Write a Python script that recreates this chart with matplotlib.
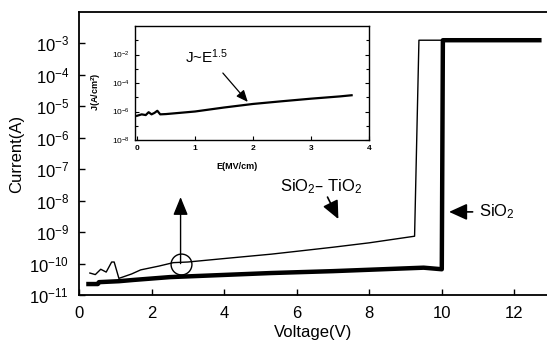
import numpy as np
import matplotlib.pyplot as plt

plt.rcParams['font.family'] = ['Liberation Sans', 'DejaVu Sans']
plt.rcParams['mathtext.default'] = 'regular'

# SiO2-TiO2 (thin line): voltage and log10(current)
v_mix = [0.3, 0.45, 0.6, 0.75, 0.9, 0.97, 1.1, 1.45, 1.7, 2.2, 2.6, 3.0, 4.0,
         5.3, 6.0, 7.0, 8.0, 9.25, 9.37, 10.03]
logi_mix = [-10.3, -10.35, -10.18, -10.27, -9.95, -9.95, -10.47, -10.33, -10.2,
            -10.08, -9.97, -9.95, -9.84, -9.7, -9.61, -9.48, -9.34, -9.13, -2.9, -2.9]

# SiO2 (thick line)
v_sio2 = [0.2, 0.52, 0.55, 1.1, 1.5, 2.5, 5.3, 7.0, 9.5, 10.0, 10.03, 12.75]
logi_sio2 = [-10.65, -10.65, -10.59, -10.56, -10.52, -10.43, -10.3, -10.24,
             -10.13, -10.18, -2.9, -2.9]

# inset: field (MV/cm) and log10(J)
e_field = [0.0, 0.08, 0.15, 0.2, 0.25, 0.3, 0.35, 0.4, 0.5, 1.0, 1.5, 2.0,
           2.5, 3.0, 3.5, 3.7]
logj = [-6.3, -6.2, -6.25, -6.05, -6.2, -6.1, -5.95, -6.2, -6.18, -6.0, -5.72,
        -5.47, -5.28, -5.1, -4.94, -4.86]

fig = plt.figure(figsize=(5.47, 3.5), dpi=100)
ax = fig.add_axes([0.1444, 0.157, 0.8556, 0.809])

ax.plot(v_mix, 10 ** np.array(logi_mix), color='black', lw=1.0)
ax.plot(v_sio2, 10 ** np.array(logi_sio2), color='black', lw=3.2,
        solid_capstyle='butt')

ax.set_yscale('log')
ax.set_xlim(0, 12.9)
ax.set_ylim(1e-11, 1e-2)
ax.set_xticks([0, 2, 4, 6, 8, 10, 12])
ax.set_yticks([10.0 ** k for k in range(-11, -2)])
ax.minorticks_off()
ax.tick_params(direction='in', labelsize=12, length=4, width=1)
ax.tick_params(axis='x', pad=8)
ax.tick_params(axis='y', pad=7)
ax.spines['right'].set_visible(False)
for s in ['left', 'top', 'bottom']:
    ax.spines[s].set_linewidth(1.3)
ax.set_xlabel('Voltage(V)', fontsize=12, labelpad=3)
ax.set_ylabel('Current(A)', fontsize=12, labelpad=4)

arrow = dict(arrowstyle='-|>,head_length=1.1,head_width=0.5', color='black',
             lw=1.2, shrinkA=0, shrinkB=0)

# circle and upward arrow
ax.plot([2.8], [1e-10], marker='o', ms=15, mfc='none', mec='black', mew=1.0)
ax.annotate('', xy=(2.8, 1.3e-8), xytext=(2.8, 1e-10),
            arrowprops=dict(arrow, lw=1.0, arrowstyle='-|>,head_length=1.1,head_width=0.45'))

# labels
ax.annotate('', xy=(7.15, 2.6e-9), xytext=(6.85, 1.3e-8), arrowprops=arrow)
ax.text(5.53, 2.8e-8, 'SiO$_2$– TiO$_2$', fontsize=12, va='center', ha='left')
ax.annotate('', xy=(10.2, 4.4e-9), xytext=(10.85, 4.4e-9), arrowprops=arrow)
ax.text(11.03, 4.4e-9, 'SiO$_2$', fontsize=12, va='center', ha='left')

# inset
ins = fig.add_axes([0.2468, 0.6, 0.4278, 0.3257])
ins.plot(e_field, 10 ** np.array(logj), color='black', lw=1.6)
ins.set_yscale('log')
ins.set_xlim(-0.035, 4.0)
ins.set_ylim(1e-8, 1)
ins.set_xticks([0, 1, 2, 3, 4])
ins.set_yticks([1e-8, 1e-6, 1e-4, 1e-2])
ins.set_yticks([10.0 ** k for k in range(-8, 0)], minor=True)
ins.set_yticklabels(['$10^{-8}$', '$10^{-6}$', '$10^{-4}$', '$10^{-2}$'], minor=False)
ins.tick_params(direction='in', labelsize=6, length=3, width=0.8, right=True)
ins.tick_params(which='minor', direction='in', length=2, width=0.8, right=True,
                labelleft=False)
for lab in ins.get_xticklabels():
    lab.set_fontweight('bold')
for s in ins.spines.values():
    s.set_linewidth(1.0)
ins.set_xlabel('E(MV/cm)', fontsize=6.5, fontweight='bold')
ins.xaxis.set_label_coords(0.436, -0.19)
ins.set_ylabel('J(A/cm$^2$)', fontsize=6.5, fontweight='bold')
ins.yaxis.set_label_coords(-0.137, 0.42)

ins.annotate('', xy=(1.91, 10 ** -5.33), xytext=(1.48, 10 ** -3.3),
             arrowprops=dict(arrowstyle='-|>,head_length=0.7,head_width=0.3',
                             color='black', lw=0.9, shrinkA=0, shrinkB=0))
ins.text(0.83, 10 ** -2.15, 'J~E$^{1.5}$', fontsize=11, va='center', ha='left')

fig.savefig('out.png', dpi=100)
